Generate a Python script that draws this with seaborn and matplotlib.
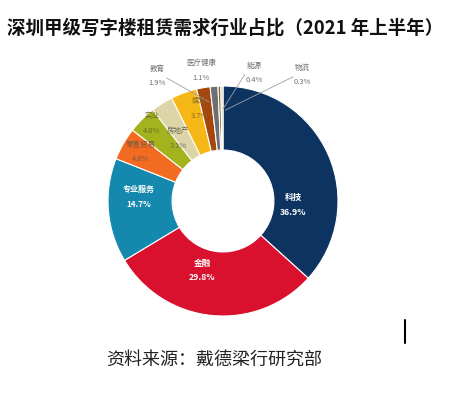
import matplotlib
matplotlib.use("Agg")
import matplotlib.pyplot as plt
import seaborn as sns
from matplotlib.lines import Line2D

# data (clockwise from 12 o'clock)
industries = ["科技", "金融", "专业服务", "零售贸易", "实业", "房地产",
              "娱乐", "教育", "医疗健康", "能源", "物流"]
shares = [36.9, 29.8, 14.7, 4.6, 4.0, 3.1, 3.7, 1.9, 1.1, 0.4, 0.3]
colors = ["#0d3461", "#d9112f", "#1489ad", "#f26b21", "#a3b31d", "#ddd5a8",
          "#f6b817", "#a4470f", "#6e6f72", "#7d6c35", "#d9cf9f"]

title = "深圳甲级写字楼租赁需求行业占比（2021 年上半年）"
source = "资料来源：戴德梁行研究部"

# label placement in pie units (radius = 1), text colour, size, leader end
label_style = {
    "科技": ((0.61, -0.03), "white", 6.2, None),
    "金融": ((-0.18, -0.60), "white", 6.2, None),
    "专业服务": ((-0.73, 0.04), "white", 5.8, None),
    "零售贸易": ((-0.72, 0.43), "#7a5a40", 5.4, None),
    "实业": ((-0.62, 0.68), "#6a7020", 5.4, None),
    "房地产": ((-0.39, 0.55), "#6b6b5a", 5.4, None),
    "娱乐": ((-0.21, 0.81), "#8a6a20", 5.4, None),
    "教育": ((-0.57, 1.09), "#707070", 5.4, (-0.12, 0.86)),
    "医疗健康": ((-0.19, 1.14), "#707070", 5.4, None),
    "能源": ((0.27, 1.12), "#707070", 5.4, (0.0, 0.80)),
    "物流": ((0.69, 1.10), "#707070", 5.4, (0.02, 0.79)),
}

sns.set_theme(style="white")
plt.rcParams["font.family"] = ["Noto Sans CJK SC", "DejaVu Sans"]

W, H = 461, 393
fig = plt.figure(figsize=(W / 100, H / 100), dpi=100)
fig.patch.set_facecolor("white")

# square axes centred on the donut: centre (223, 200) px, radius 115 px
S, L = 345, 1.5
cx, cy = 223, 201
ax = fig.add_axes([(cx - S / 2) / W, (H - cy - S / 2) / H, S / W, S / H])
ax.pie(shares, colors=sns.color_palette(colors), startangle=90, counterclock=False,
       radius=1.0, wedgeprops=dict(width=0.557, edgecolor="white", linewidth=0.8))
ax.set_xlim(-L, L)
ax.set_ylim(-L, L)
ax.set_aspect("equal")
ax.axis("off")

for name, val in zip(industries, shares):
    (x, y), col, size, leader = label_style[name]
    weight = "bold" if col == "white" else "normal"
    ax.text(x, y + 0.058, name, ha="center", va="center", color=col,
            fontsize=size, fontweight=weight)
    ax.text(x, y - 0.068, f"{val:.1f}%", ha="center", va="center", color=col,
            fontsize=size, fontweight=weight)
    if leader is not None:
        sx = x + (0.08 if x < leader[0] else -0.08)
        ax.plot([sx, leader[0]], [y - 0.02, leader[1]], color="#a0a0a0", lw=0.6)

fig.text(7 / W, 1 - 28 / H, title, ha="left", va="center",
         fontsize=13.3, fontweight="bold", color="#111111")
fig.text(214 / W, 1 - 360 / H, source, ha="center", va="center",
         fontsize=13, color="#222222")
fig.add_artist(Line2D([405 / W, 405 / W], [1 - 320 / H, 1 - 343 / H],
                      color="black", lw=1.5))

fig.savefig("out.png", dpi=100)
